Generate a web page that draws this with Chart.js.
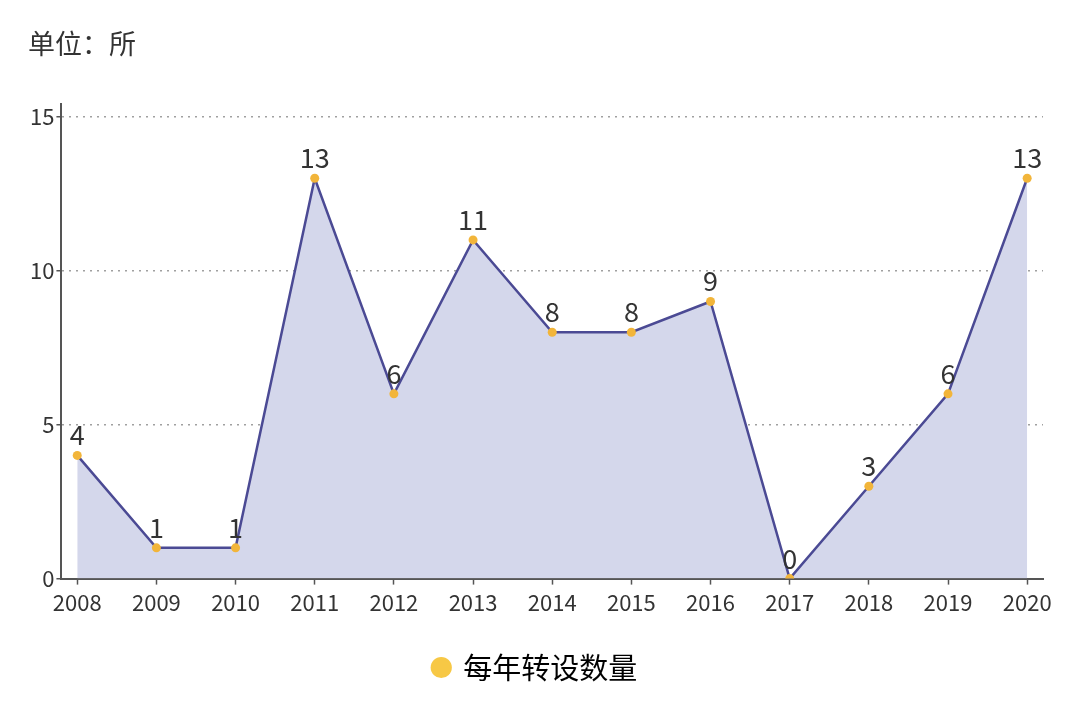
<!DOCTYPE html>
<html>
<head>
<meta charset="utf-8">
<script src="https://cdn.jsdelivr.net/npm/chart.js@4.4.0/dist/chart.umd.min.js"></script>
<style>
html,body{margin:0;padding:0;background:#fff;}
#wrap{width:1080px;height:708px;position:relative;}
</style>
</head>
<body>
<div id="wrap"><canvas id="c" width="1080" height="708"></canvas></div>
<script>
const years = [2008, 2009, 2010, 2011, 2012, 2013, 2014, 2015, 2016, 2017, 2018, 2019, 2020];
const counts = [4, 1, 1, 13, 6, 11, 8, 8, 9, 0, 3, 6, 13];
const yTicks = [0, 5, 10, 15];
const seriesName = '每年转设数量';
const unitTitle = '单位：所';

const FONT = '"Noto Sans CJK SC", "Noto Sans", sans-serif';

const valueLabels = {
  id: 'valueLabels',
  afterDatasetsDraw(chart) {
    const ctx = chart.ctx;
    const meta = chart.getDatasetMeta(0);
    ctx.save();
    ctx.font = '27px ' + FONT;
    ctx.fillStyle = '#333333';
    ctx.textAlign = 'center';
    ctx.textBaseline = 'alphabetic';
    meta.data.forEach((pt, i) => {
      ctx.fillText(String(counts[i]), pt.x, pt.y - 10);
    });
    ctx.restore();
  }
};

new Chart(document.getElementById('c'), {
  type: 'line',
  data: {
    datasets: [{
      label: seriesName,
      data: years.map((y, i) => ({x: y, y: counts[i]})),
      borderColor: '#4b4a94',
      borderWidth: 2.5,
      backgroundColor: 'rgba(212,215,235,1)',
      fill: 'origin',
      tension: 0,
      pointRadius: 4.5,
      pointBorderWidth: 0,
      pointBackgroundColor: '#f2b53a',
      pointHoverRadius: 4.5
    }]
  },
  options: {
    responsive: false,
    animation: false,
    devicePixelRatio: 1,
    layout: {padding: {left: 28, right: 37, top: 0, bottom: 16}},
    plugins: {
      title: {
        display: true,
        text: unitTitle,
        align: 'start',
        color: '#333333',
        font: {family: FONT, size: 27, weight: 'normal'},
        padding: {top: 28, bottom: 44}
      },
      legend: {
        position: 'bottom',
        labels: {
          usePointStyle: true,
          pointStyle: 'circle',
          boxWidth: 15,
          boxHeight: 15,
          color: '#333333',
          font: {family: FONT, size: 29},
          padding: 32,
          generateLabels: (chart) => [{
            text: seriesName,
            fillStyle: '#f7c845',
            strokeStyle: '#f7c845',
            lineWidth: 0,
            pointStyle: 'circle',
            datasetIndex: 0
          }]
        }
      },
      tooltip: {enabled: false}
    },
    scales: {
      x: {
        type: 'linear',
        min: 2007.8,
        max: 2020.2,
        afterBuildTicks: (scale) => {
          scale.ticks = years.map(v => ({value: v}));
        },
        ticks: {
          callback: (v) => String(v),
          color: '#333333',
          font: {family: FONT, size: 22},
          padding: 5,
          maxRotation: 0,
          autoSkip: false
        },
        grid: {
          drawOnChartArea: false,
          drawTicks: true,
          tickLength: 6,
          tickColor: '#555555',
          tickWidth: 1.5
        },
        border: {display: true, color: '#555555', width: 2}
      },
      y: {
        type: 'linear',
        min: 0,
        max: 15.4,
        afterBuildTicks: (scale) => {
          scale.ticks = yTicks.map(v => ({value: v}));
        },
        ticks: {
          color: '#333333',
          font: {family: FONT, size: 22},
          padding: 2
        },
        grid: {
          color: '#a0a0a0',
          lineWidth: 1.5,
          tickBorderDash: [],
          tickLength: 5,
          tickColor: '#555555',
          tickWidth: 1.5
        },
        border: {display: true, color: '#555555', width: 2, dash: [2, 5]}
      }
    }
  },
  plugins: [valueLabels]
});
</script>
</body>
</html>
